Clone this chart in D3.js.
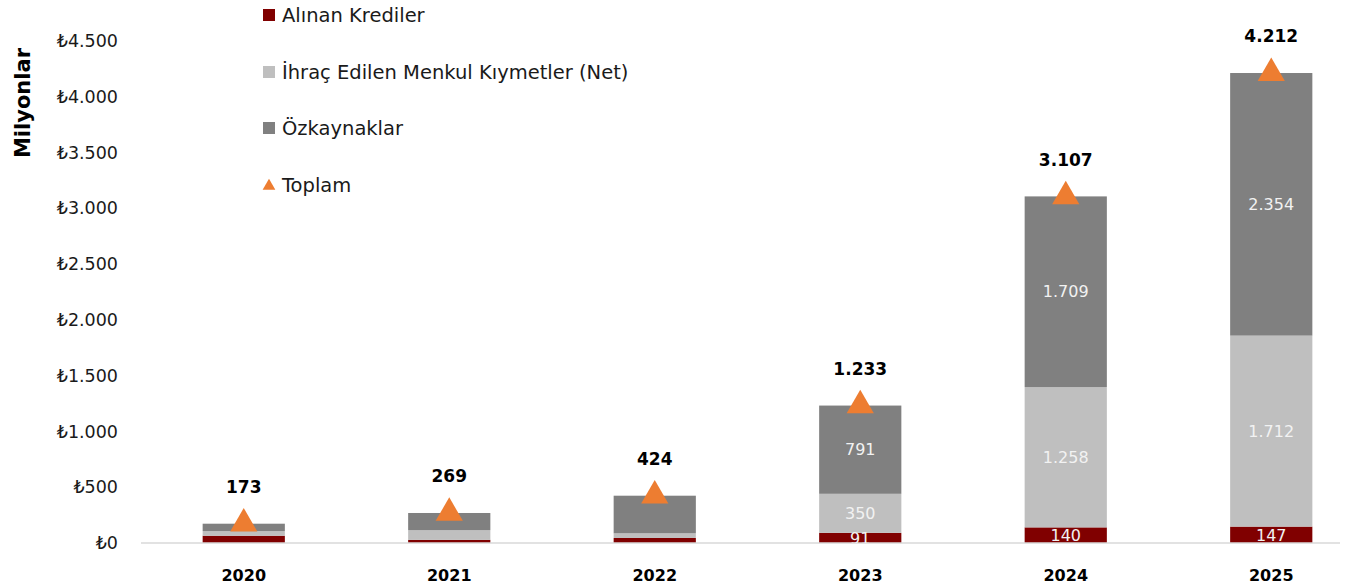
<!DOCTYPE html>
<html>
<head>
<meta charset="utf-8">
<script src="https://cdn.jsdelivr.net/npm/d3@7"></script>
<style>
  body { margin: 0; background: #fff; }
  text { font-family: "DejaVu Sans", sans-serif; }
</style>
</head>
<body>
<script>
    // data
    var years = ["2020", "2021", "2022", "2023", "2024", "2025"];
    var krediler = [65, 28, 45, 91, 140, 147];
    var menkul = [42, 87, 42, 350, 1258, 1712];
    var ozkaynak = [66, 154, 337, 791, 1709, 2354];
    var toplam = [173, 269, 424, 1233, 3107, 4212];
    var yTicks = [0, 500, 1000, 1500, 2000, 2500, 3000, 3500, 4000, 4500];
    var seriesNames = ["Alınan Krediler", "İhraç Edilen Menkul Kıymetler (Net)", "Özkaynaklar", "Toplam"];
    var colors = ["#800000", "#bfbfbf", "#808080", "#ed7d31"];

    var width = 1355, height = 588;

    var svg = d3.select("body").append("svg")
        .attr("width", width)
        .attr("height", height);

    // scales
    var x = d3.scaleBand()
        .domain(years)
        .range([141, 1374])
        .paddingInner(0.6)
        .paddingOuter(0.3);

    var y = d3.scaleLinear()
        .domain([0, 4500])
        .range([543, 41]);

    var fmt = function (d) {
        return d3.format(",")(d).replace(/,/g, ".");
    };

    // y axis labels
    var yAxis = d3.axisLeft(y)
        .tickValues(yTicks)
        .tickSize(0)
        .tickPadding(0)
        .tickFormat(function (d) { return "₺" + fmt(d); });

    var yg = svg.append("g")
        .attr("transform", "translate(118,0)")
        .call(yAxis);
    yg.select(".domain").remove();
    yg.selectAll("text")
        .attr("font-size", "17.5px")
        .attr("fill", "#1a1a1a")
        .attr("font-family", "'DejaVu Sans', sans-serif");

    svg.append("text")
        .attr("transform", "translate(30,103) rotate(-90)")
        .attr("text-anchor", "middle")
        .attr("font-size", "21px")
        .attr("font-weight", "bold")
        .attr("fill", "#000")
        .text("Milyonlar");

    // stacked data
    var rows = years.map(function (yr, i) {
        return { year: yr, a: krediler[i], b: menkul[i], c: ozkaynak[i], total: toplam[i] };
    });
    var stack = d3.stack().keys(["a", "b", "c"]);
    var layers = stack(rows);

    svg.append("clipPath").attr("id", "plotclip")
        .append("rect").attr("x", 0).attr("y", 0).attr("width", width).attr("height", 543);

    var bars = svg.append("g");
    layers.forEach(function (layer, k) {
        bars.selectAll(".s" + k)
            .data(layer)
            .enter()
            .append("rect")
            .attr("x", function (d) { return x(d.data.year); })
            .attr("y", function (d) { return y(d[1]); })
            .attr("width", x.bandwidth())
            .attr("height", function (d) { return y(d[0]) - y(d[1]); })
            .attr("fill", colors[k]);
    });

    // axis line
    svg.append("line")
        .attr("x1", 141).attr("x2", 1340)
        .attr("y1", 543).attr("y2", 543)
        .attr("stroke", "#d9d9d9")
        .attr("stroke-width", 1.5);

    // segment labels (only for the larger bars)
    var labelG = svg.append("g").attr("clip-path", "url(#plotclip)");
    layers.forEach(function (layer, k) {
        labelG.selectAll(".l" + k)
            .data(layer.filter(function (d, i) { return i >= 3; }))
            .enter()
            .append("text")
            .attr("x", function (d) { return x(d.data.year) + x.bandwidth() / 2; })
            .attr("y", function (d) { return (y(d[0]) + y(d[1])) / 2; })
            .attr("dy", "0.36em")
            .attr("text-anchor", "middle")
            .attr("font-size", "16px")
            .attr("fill", "#f2f2f2")
            .text(function (d) { return fmt(d[1] - d[0]); });
    });

    // total triangles
    var tri = d3.symbol().type(d3.symbolTriangle).size(320);
    svg.selectAll(".tri")
        .data(rows)
        .enter()
        .append("path")
        .attr("d", tri)
        .attr("transform", function (d) {
            return "translate(" + (x(d.year) + x.bandwidth() / 2) + "," + y(d.total) + ")";
        })
        .attr("fill", colors[3]);

    svg.selectAll(".tot")
        .data(rows)
        .enter()
        .append("text")
        .attr("x", function (d) { return x(d.year) + x.bandwidth() / 2; })
        .attr("y", function (d) { return y(d.total) - 37; })
        .attr("dy", "0.36em")
        .attr("text-anchor", "middle")
        .attr("font-size", "17px")
        .attr("font-weight", "bold")
        .attr("fill", "#000")
        .text(function (d) { return fmt(d.total); });

    // year labels
    svg.selectAll(".yr")
        .data(years)
        .enter()
        .append("text")
        .attr("x", function (d) { return x(d) + x.bandwidth() / 2; })
        .attr("y", 575)
        .attr("dy", "0.36em")
        .attr("text-anchor", "middle")
        .attr("font-size", "16px")
        .attr("font-weight", "bold")
        .attr("fill", "#000")
        .text(function (d) { return d; });

    // legend
    var legend = svg.append("g");
    var legY = [15, 72, 128, 185];
    seriesNames.forEach(function (name, i) {
        var g = legend.append("g").attr("transform", "translate(263," + legY[i] + ")");
        if (i < 3) {
            g.append("rect")
                .attr("x", 0).attr("y", -6)
                .attr("width", 12).attr("height", 12)
                .attr("fill", colors[i]);
        } else {
            g.append("path")
                .attr("d", d3.symbol().type(d3.symbolTriangle).size(70))
                .attr("transform", "translate(6,1)")
                .attr("fill", colors[3]);
        }
        g.append("text")
            .attr("x", 19)
            .attr("dy", "0.36em")
            .attr("font-size", "19.5px")
            .attr("fill", "#1a1a1a")
            .text(name);
    });
</script>
</body>
</html>
